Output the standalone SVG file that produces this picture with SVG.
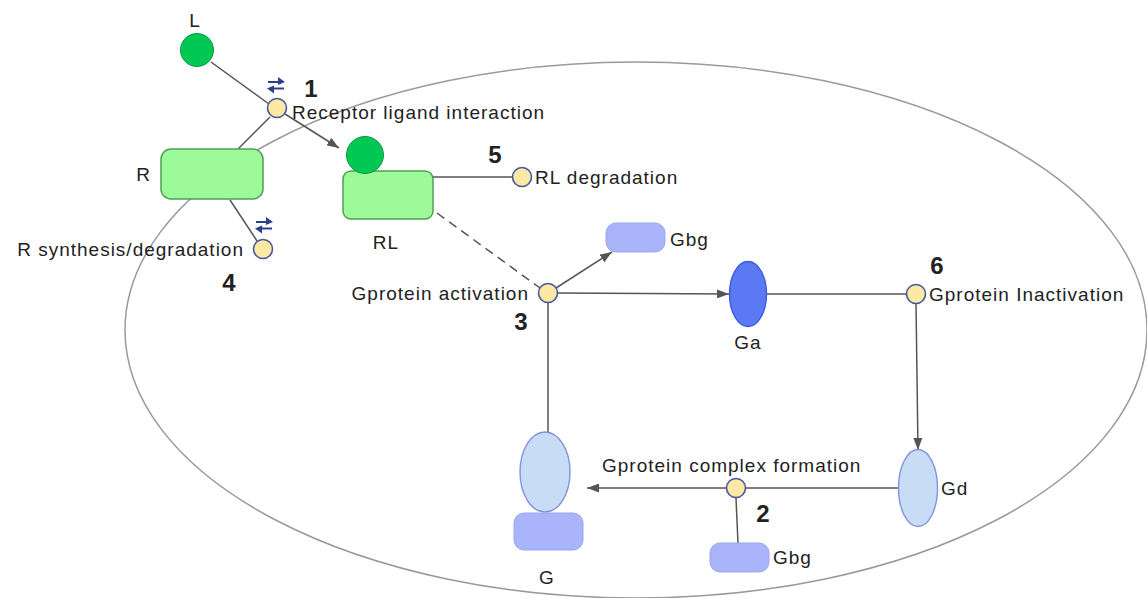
<svg xmlns="http://www.w3.org/2000/svg" width="1147" height="598" viewBox="0 0 1147 598">
<style>
text{font-family:"Liberation Sans",Arial,sans-serif;font-size:19px;letter-spacing:1px;fill:#222}
.num{font-weight:bold;font-size:24px;letter-spacing:0}
.c{stroke:#555;stroke-width:1.5;fill:none}
.rxn{fill:#fde9a3;stroke:#44589e;stroke-width:1.6}
.green{fill:#9cfa98;stroke:#4f9f55;stroke-width:1.5}
.lig{fill:#00c853;stroke:#0a9a40;stroke-width:1}
.gbg{fill:#a9b4fb;stroke:#9ba7ee;stroke-width:1}
.lb{fill:#c9dcf5;stroke:#7f95d8;stroke-width:1.4}
</style>
<defs>
<marker id="arr" markerUnits="userSpaceOnUse" markerWidth="13" markerHeight="9" refX="12" refY="4.5" orient="auto">
<path d="M0,0 L12,4.5 L0,9 z" fill="#555"/>
</marker>
<g id="bidir">
<path d="M-8,-3 H5" stroke="#2b3f8c" stroke-width="2" fill="none"/>
<path d="M9,-3 L2,-8 L2,0 z" fill="#2b3f8c"/>
<path d="M8,3.5 H-5" stroke="#2b3f8c" stroke-width="2" fill="none"/>
<path d="M-9,3.5 L-2,0.5 L-2,8.5 z" fill="#2b3f8c"/>
</g>
</defs>
<rect width="1147" height="598" fill="#fff"/>
<g id="compartment">
<ellipse cx="636" cy="330" rx="511" ry="268" fill="none" stroke="#999" stroke-width="1.5"/>
</g>
<g id="connectors">
<line class="c" x1="211" y1="62" x2="269" y2="104"/>
<line class="c" x1="238" y1="149" x2="270" y2="117"/>
<line class="c" x1="285" y1="114" x2="339" y2="148" marker-end="url(#arr)"/>
<line class="c" x1="230" y1="200" x2="257" y2="241"/>
<line class="c" x1="433" y1="177" x2="512" y2="177"/>
<line class="c" x1="437" y1="213" x2="540" y2="288" stroke-dasharray="9,6"/>
<line class="c" x1="556" y1="288" x2="612" y2="252" marker-end="url(#arr)"/>
<line class="c" x1="558" y1="293" x2="729" y2="294" marker-end="url(#arr)"/>
<line class="c" x1="767" y1="294" x2="906" y2="294"/>
<line class="c" x1="916" y1="304" x2="918" y2="450" marker-end="url(#arr)"/>
<line class="c" x1="898" y1="488" x2="746" y2="488"/>
<line class="c" x1="726" y1="488" x2="587" y2="488" marker-end="url(#arr)"/>
<line class="c" x1="736" y1="498" x2="738" y2="543"/>
<line class="c" x1="548" y1="303" x2="548" y2="432"/>
</g>
<g id="node-L">
<circle class="lig" cx="197" cy="50" r="16.5"/>
<text x="195" y="27" text-anchor="middle">L</text>
</g>
<g id="node-R">
<rect class="green" x="161" y="149" width="102" height="50" rx="10"/>
<text x="151" y="181" text-anchor="end">R</text>
</g>
<g id="node-RL">
<rect class="green" x="343" y="171" width="90" height="48" rx="8"/>
<circle class="lig" cx="365" cy="155" r="18.5"/>
<text x="386" y="249" text-anchor="middle">RL</text>
</g>
<g id="reaction-1">
<circle class="rxn" cx="277" cy="108" r="9.5"/>
<use href="#bidir" x="276" y="85"/>
<text class="num" x="311" y="97" text-anchor="middle">1</text>
<text x="292" y="119">Receptor ligand interaction</text>
</g>
<g id="reaction-4">
<circle class="rxn" cx="263" cy="249" r="9.5"/>
<use href="#bidir" x="264" y="225"/>
<text class="num" x="229" y="291" text-anchor="middle">4</text>
<text x="244" y="256" text-anchor="end">R synthesis/degradation</text>
</g>
<g id="reaction-5">
<circle class="rxn" cx="522" cy="177" r="9.5"/>
<text class="num" x="495" y="163" text-anchor="middle">5</text>
<text x="535" y="184">RL degradation</text>
</g>
<g id="reaction-3">
<circle class="rxn" cx="548" cy="293" r="9.5"/>
<text class="num" x="521" y="330" text-anchor="middle">3</text>
<text x="529" y="300" text-anchor="end">Gprotein activation</text>
</g>
<g id="node-Gbg-top">
<rect class="gbg" x="606" y="223" width="59" height="29" rx="10"/>
<text x="670" y="246">Gbg</text>
</g>
<g id="node-Ga">
<ellipse cx="748" cy="294" rx="18.5" ry="32.5" fill="#5b78f5" stroke="#3c5cd8" stroke-width="1.4"/>
<text x="748" y="349" text-anchor="middle">Ga</text>
</g>
<g id="reaction-6">
<circle class="rxn" cx="916" cy="294" r="9.5"/>
<text class="num" x="937" y="274" text-anchor="middle">6</text>
<text x="929" y="301">Gprotein Inactivation</text>
</g>
<g id="node-Gd">
<ellipse class="lb" cx="918" cy="488" rx="19.5" ry="38.5"/>
<text x="941" y="495">Gd</text>
</g>
<g id="reaction-2">
<circle class="rxn" cx="736" cy="488" r="9.5"/>
<text class="num" x="763" y="522" text-anchor="middle">2</text>
<text x="602" y="472">Gprotein complex formation</text>
</g>
<g id="node-Gbg-bottom">
<rect class="gbg" x="710" y="543" width="59" height="29" rx="10"/>
<text x="773" y="564">Gbg</text>
</g>
<g id="node-G">
<ellipse class="lb" cx="545" cy="472" rx="25" ry="40"/>
<rect class="gbg" x="514" y="513" width="69" height="37" rx="10"/>
<text x="547" y="584" text-anchor="middle">G</text>
</g>
</svg>
